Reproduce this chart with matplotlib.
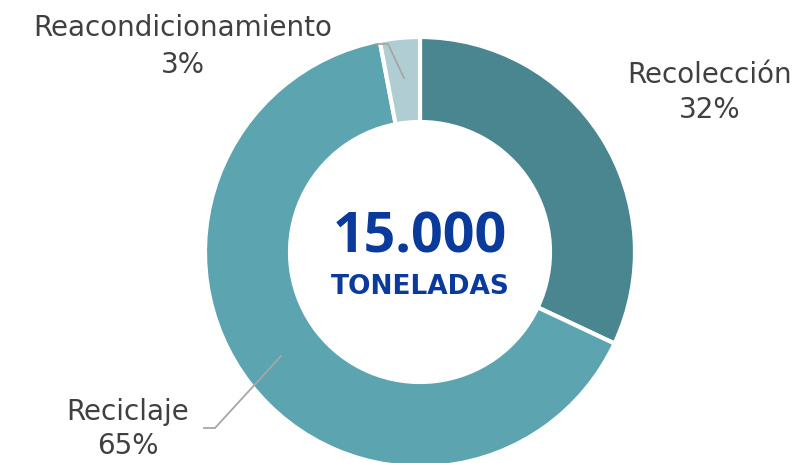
import matplotlib
matplotlib.use("Agg")
import matplotlib.pyplot as plt

# data
labels = ["Recolección", "Reciclaje", "Reacondicionamiento"]
shares = [32, 65, 3]
colors = ["#4a8690", "#5ba4b0", "#b1cdd4"]
total_text = "15.000"
unit_text = "TONELADAS"

W, H = 805, 463
fig = plt.figure(figsize=(W / 100, H / 100), dpi=100)
ax = fig.add_axes([0, 0, 1, 1])

def py(y):
    # pixel row from top -> data y
    return H - y

cx, cy, r = 420, py(252), 215
ax.pie(shares, colors=colors, startangle=90, counterclock=False,
       radius=r, center=(cx, cy), frame=True,
       wedgeprops=dict(width=85, edgecolor="white", linewidth=3))
ax.set_xlim(0, W)
ax.set_ylim(0, H)
ax.axis("off")

txt = dict(fontsize=20, color="#404040", family="DejaVu Sans", ha="center", va="center")
ax.text(710, py(75), labels[0], **txt)
ax.text(710, py(110), f"{shares[0]}%", **txt)
ax.text(128, py(412), labels[1], **txt)
ax.text(128, py(446), f"{shares[1]}%", **txt)
ax.text(183, py(28), labels[2], **txt)
ax.text(183, py(65), f"{shares[2]}%", **txt)

# leader lines
lc = "#a6a6a6"
ax.plot([281, 215, 204], [py(356), py(428), py(428)], color=lc, lw=1.3)
ax.plot([404, 388, 376], [py(78), py(44), py(44)], color=lc, lw=1.3)

ax.text(cx, py(238), total_text, fontsize=40, fontweight="bold", color="#0a3a9c",
        family="Open Sans", ha="center", va="center")
ax.text(cx, py(287), unit_text, fontsize=19, fontweight="bold", color="#0a3a9c",
        family="DejaVu Sans", ha="center", va="center")

fig.savefig("out.png", dpi=100)
